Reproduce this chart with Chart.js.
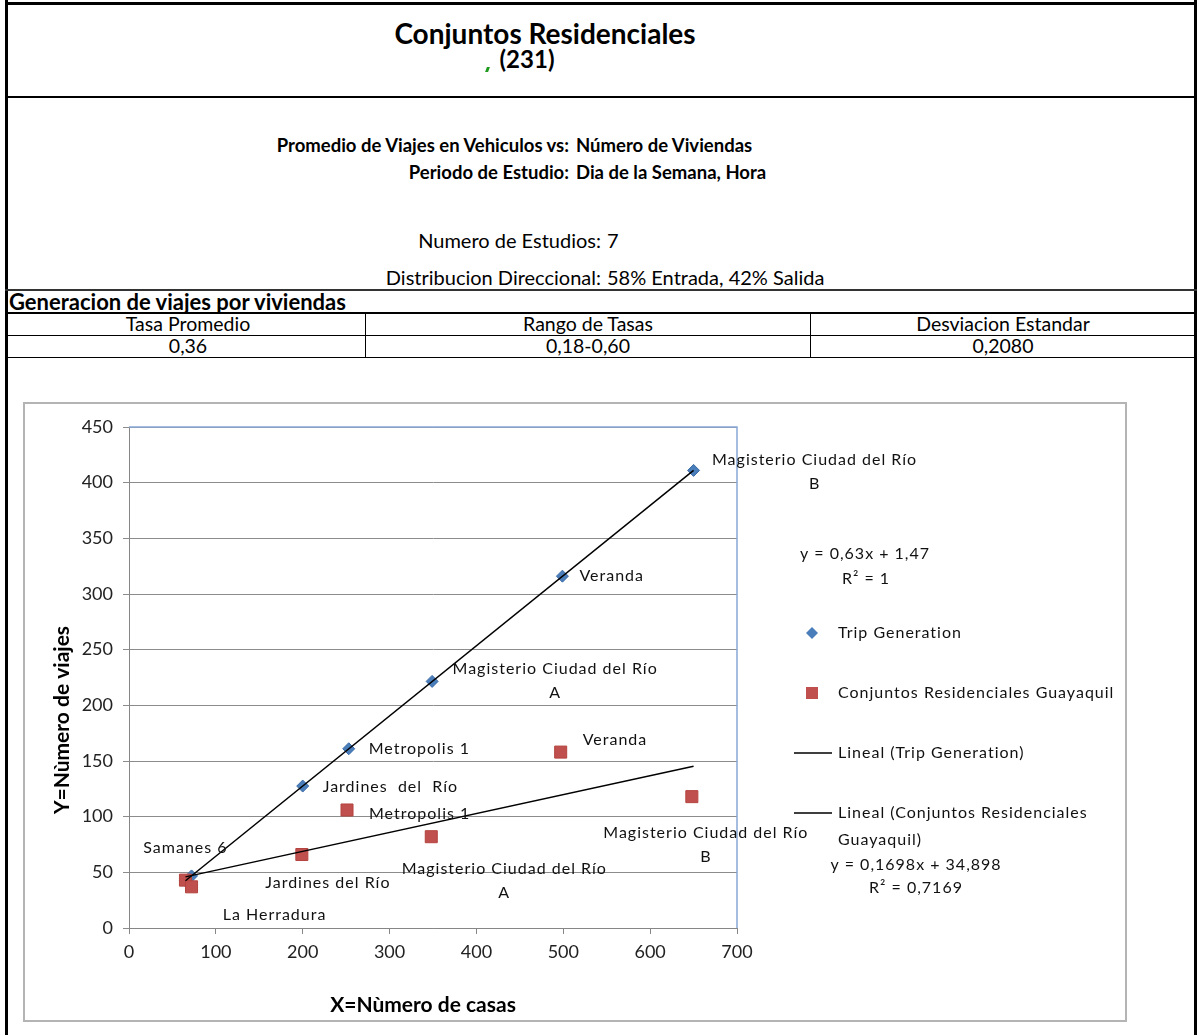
<!DOCTYPE html>
<html lang="es">
<head>
<meta charset="UTF-8" />
<title>Conjuntos Residenciales (231)</title>
<script src="https://cdn.jsdelivr.net/npm/chart.js"></script>
<style>
  body { margin: 0; background: #fff; color: #000; font-family: Lato, "Open Sans", sans-serif; }
  .page { position: relative; width: 1201px; height: 1035px; overflow: hidden; }
  .ln { position: absolute; background: #000; }
  .t { position: absolute; white-space: pre; line-height: 1; }
  .c { transform: translate(-50%, -50%); }
  .r { transform: translate(-100%, -50%); }
  .l { transform: translate(0, -50%); }
  .b { font-weight: bold; }
  .f1 { font-size: 19.5px; }
  .f2 { font-size: 18.5px; }
  .chart-box {
    position: absolute; left: 23px; top: 402px; width: 1104px; height: 620px;
    box-sizing: border-box; border: 2px solid #b4b4b4; background: #fff;
  }
  .chart-box canvas { display: block; }
</style>
</head>
<body>
<div class="page">
  <div class="ln" style="left:5px;top:0;width:3px;height:1035px"></div>
  <div class="ln" style="left:1194px;top:0;width:3px;height:1035px"></div>
  <div class="ln" style="left:5px;top:2px;width:1192px;height:3px"></div>
  <div class="ln" style="left:5px;top:96px;width:1192px;height:2px"></div>
  <div class="ln" style="left:5px;top:289px;width:1192px;height:2px;background:#333"></div>
  <div class="ln" style="left:5px;top:312px;width:1192px;height:2px"></div>
  <div class="ln" style="left:5px;top:335px;width:1192px;height:1px"></div>
  <div class="ln" style="left:5px;top:357px;width:1192px;height:1px"></div>
  <div class="ln" style="left:365px;top:313px;width:1px;height:45px"></div>
  <div class="ln" style="left:810px;top:313px;width:1px;height:45px"></div>

  <div class="t c b" style="left:545px;top:33px;font-size:28px">Conjuntos Residenciales</div>
  <div class="t c b" style="left:527px;top:59px;font-size:24px">(231)</div>
  <div style="position:absolute;left:486px;top:67px;width:3px;height:5px;background:#1e9b1e;transform:skewX(-20deg)"></div>

  <div class="t r b f2" style="left:569px;top:145px">Promedio de Viajes en Vehiculos vs:</div>
  <div class="t l b f2" style="left:576px;top:145px">Número de Viviendas</div>
  <div class="t r b f2" style="left:569px;top:172px">Periodo de Estudio:</div>
  <div class="t l b f2" style="left:576px;top:172px">Dia de la Semana, Hora</div>
  <div class="t r" style="left:601px;top:240px;font-size:20px">Numero de Estudios:</div>
  <div class="t l" style="left:607px;top:240px;font-size:20px">7</div>
  <div class="t r" style="left:601px;top:277px;font-size:20px">Distribucion Direccional:</div>
  <div class="t l" style="left:607px;top:277px;font-size:20px">58% Entrada, 42% Salida</div>

  <div class="t l b" style="left:9px;top:302px;font-size:22px">Generacion de viajes por viviendas</div>
  <div class="t c f1" style="left:188px;top:324px">Tasa Promedio</div>
  <div class="t c f1" style="left:588px;top:324px">Rango de Tasas</div>
  <div class="t c f1" style="left:1003px;top:324px">Desviacion Estandar</div>
  <div class="t c f1" style="left:188px;top:346px">0,36</div>
  <div class="t c f1" style="left:588px;top:346px">0,18-0,60</div>
  <div class="t c f1" style="left:1003px;top:346px">0,2080</div>

  <div class="chart-box">
    <canvas id="tripChart" width="1100" height="616"></canvas>
  </div>
</div>

<script>
  // Numero de casas / numero de viajes
  const names = ['Samanes 6', 'La Herradura', 'Jardines del Río', 'Metropolis 1',
                 'Magisterio Ciudad del Río\nA', 'Veranda', 'Magisterio Ciudad del Río\nB'];
  const tripNames = ['Samanes 6', 'La Herradura', 'Jardines  del  Río', 'Metropolis 1',
                     'Magisterio Ciudad del Río\nA', 'Veranda', 'Magisterio Ciudad del Río\nB'];

  const tripX = [65, 72, 200, 253, 349, 499, 650];
  const tripY = [42.4, 46.8, 127.5, 161, 221.5, 316, 411];

  const resX = [65, 72, 199, 251, 348, 497, 648];
  const resY = [43, 37, 66, 106, 82, 158, 118];

  // trendlines as printed on the chart
  const trendSlope = [0.63, 0.1698];
  const trendIntercept = [1.47, 34.898];
  const trendFrom = [65, 65];
  const trendTo = [650, 650];

  const xTicks = [0, 100, 200, 300, 400, 500, 600, 700];
  const yTicks = [0, 50, 100, 150, 200, 250, 300, 350, 400, 450];

  // label placement: [dx, dy, align] from the point, null = hidden under another label
  const tripLabelPos = [[0, -33, 'center'], [83, 39, 'center'], [20, 1, 'left'], [20, 0, 'left'],
                        [123, -1, 'center'], [17, 0, 'left'], [121, 1, 'center']];
  const resLabelPos = [null, null, [26, 28, 'center'], [22, 4, 'left'],
                       [73, 44, 'center'], [22, -12, 'left'], [14, 48, 'center']];

  const BLUE = '#4a7ebb';
  const RED = '#c0504d';
  const LABEL_FONT = '16px Lato';

  function pts(xs, ys) { return xs.map((x, i) => ({ x: x, y: ys[i] })); }
  function trend(i) {
    return [trendFrom[i], trendTo[i]].map(x => ({ x: x, y: trendSlope[i] * x + trendIntercept[i] }));
  }

  function drawText(ctx, text, x, y, align) {
    const lines = text.split('\n');
    const lh = 24;
    const y0 = y - (lines.length - 1) * lh / 2;
    ctx.textAlign = align;
    lines.forEach((ln, k) => ctx.fillText(ln, x, y0 + k * lh));
  }

  const extras = {
    id: 'extras',
    beforeDatasetsDraw(chart) {
      const { ctx, chartArea: a } = chart;
      ctx.save();
      ctx.strokeStyle = '#86a8d6';
      ctx.lineWidth = 1.5;
      ctx.beginPath();
      ctx.moveTo(a.left, a.top);
      ctx.lineTo(a.right, a.top);
      ctx.lineTo(a.right, a.bottom);
      ctx.stroke();
      ctx.restore();
    },
    afterDatasetsDraw(chart) {
      const ctx = chart.ctx;
      ctx.save();
      ctx.font = LABEL_FONT;
      if ('letterSpacing' in ctx) ctx.letterSpacing = '1px';
      ctx.fillStyle = '#111';
      ctx.textBaseline = 'middle';
      [[0, tripNames, tripLabelPos], [1, names, resLabelPos]].forEach(([di, lbls, pos]) => {
        chart.getDatasetMeta(di).data.forEach((el, i) => {
          const p = pos[i];
          if (!p) return;
          drawText(ctx, lbls[i], el.x + p[0], el.y + p[1], p[2]);
        });
      });
      ctx.restore();
    },
    afterDraw(chart) {
      const ctx = chart.ctx;
      ctx.save();
      ctx.fillStyle = '#000';
      ctx.textBaseline = 'middle';

      // axis titles
      ctx.font = 'bold 21px Lato';
      ctx.textAlign = 'center';
      ctx.fillText('X=Nùmero de casas', 398, 601);
      ctx.save();
      ctx.translate(37, 316);
      ctx.rotate(-Math.PI / 2);
      ctx.fillText('Y=Nùmero de viajes', 0, 0);
      ctx.restore();

      // legend and trendline equations
      ctx.font = LABEL_FONT;
      if ('letterSpacing' in ctx) ctx.letterSpacing = '1px';
      ctx.fillStyle = '#111';
      ctx.textAlign = 'center';
      ctx.fillText('y = 0,63x + 1,47', 840, 150);
      ctx.fillText('R² = 1', 841, 175);
      ctx.fillText('y = 0,1698x + 34,898', 891, 461);
      ctx.fillText('R² = 0,7169', 891, 484);

      ctx.textAlign = 'left';
      ctx.fillText('Trip Generation', 813, 229);
      ctx.fillText('Conjuntos Residenciales Guayaquil', 813, 289);
      ctx.fillText('Lineal (Trip Generation)', 813, 349);
      ctx.fillText('Lineal (Conjuntos Residenciales', 813, 409);
      ctx.fillText('Guayaquil)', 813, 436);

      ctx.fillStyle = BLUE;
      ctx.beginPath();
      ctx.moveTo(787, 223); ctx.lineTo(793, 229); ctx.lineTo(787, 235); ctx.lineTo(781, 229);
      ctx.closePath();
      ctx.fill();
      ctx.fillStyle = RED;
      ctx.fillRect(781, 283, 12, 12);

      ctx.strokeStyle = '#000';
      ctx.lineWidth = 1.5;
      ctx.beginPath();
      ctx.moveTo(769, 349); ctx.lineTo(807, 349);
      ctx.moveTo(769, 409); ctx.lineTo(807, 409);
      ctx.stroke();
      ctx.restore();
    }
  };

  new Chart(document.getElementById('tripChart'), {
    type: 'scatter',
    data: {
      datasets: [
        {
          label: 'Trip Generation',
          data: pts(tripX, tripY),
          pointStyle: 'rectRot',
          pointRadius: 6,
          backgroundColor: BLUE,
          borderColor: '#3b6aa6',
          borderWidth: 1,
          order: 2
        },
        {
          label: 'Conjuntos Residenciales Guayaquil',
          data: pts(resX, resY),
          pointStyle: 'rect',
          pointRadius: 8.5,
          backgroundColor: RED,
          borderColor: '#b4443f',
          borderWidth: 1,
          order: 1
        },
        {
          label: 'Lineal (Trip Generation)',
          data: trend(0),
          showLine: true,
          borderColor: '#000',
          borderWidth: 1.5,
          pointRadius: 0,
          order: 0
        },
        {
          label: 'Lineal (Conjuntos Residenciales Guayaquil)',
          data: trend(1),
          showLine: true,
          borderColor: '#000',
          borderWidth: 1.5,
          pointRadius: 0,
          order: 0
        }
      ]
    },
    options: {
      responsive: false,
      animation: false,
      devicePixelRatio: 1,
      layout: { padding: { left: 0, top: 23, right: 388, bottom: 0 } },
      plugins: { legend: { display: false }, tooltip: { enabled: false } },
      scales: {
        x: {
          type: 'linear',
          min: xTicks[0],
          max: xTicks[xTicks.length - 1],
          afterBuildTicks: s => { s.ticks = xTicks.map(v => ({ value: v })); },
          ticks: { color: '#222', font: { family: 'Lato', size: 18 }, padding: 7 },
          grid: { drawOnChartArea: false, color: '#868686', tickLength: 6 },
          border: { color: '#868686' },
          afterFit: s => { s.height = 92; }
        },
        y: {
          type: 'linear',
          min: yTicks[0],
          max: yTicks[yTicks.length - 1],
          afterBuildTicks: s => { s.ticks = yTicks.map(v => ({ value: v })); },
          ticks: { color: '#222', font: { family: 'Lato', size: 18 }, padding: 10 },
          grid: { color: '#8c8c8c', tickLength: 6 },
          border: { color: '#868686' },
          afterFit: s => { s.width = 104; }
        }
      }
    },
    plugins: [extras]
  });
</script>
</body>
</html>
